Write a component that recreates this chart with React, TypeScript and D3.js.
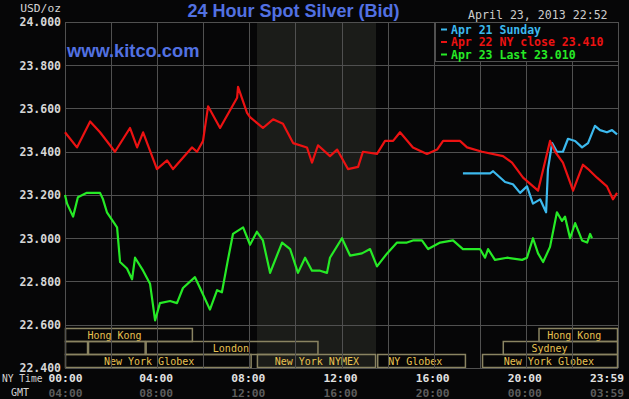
import React from "react";
import * as d3 from "d3";

// price axis
const priceTicks = [24.0, 23.8, 23.6, 23.4, 23.2, 23.0, 22.8, 22.6, 22.4];

// time axis (hours since 00:00 NY time)
const labelHours = [0, 4, 8, 12, 16, 20, 24];
const nyTimeLabels = ["00:00", "04:00", "08:00", "12:00", "16:00", "20:00", "23:59"];
const gmtLabels = ["04:00", "08:00", "12:00", "16:00", "20:00", "00:00", "03:59"];

// Apr 21 Sunday (cyan)
const apr21Hours = [17.27, 18.45, 18.58, 19.1, 19.44, 19.75, 20.05, 20.31, 20.62, 20.88, 20.96, 21.14, 21.35, 21.61, 21.83, 22.14, 22.44, 22.7, 23.0, 23.22, 23.52, 23.74, 23.96];
const apr21Price = [23.3, 23.3, 23.31, 23.26, 23.25, 23.21, 23.24, 23.16, 23.18, 23.12, 23.32, 23.44, 23.4, 23.4, 23.46, 23.45, 23.42, 23.44, 23.52, 23.5, 23.49, 23.5, 23.48];

// Apr 22 NY close (red)
const apr22Hours = [0, 0.52, 1.09, 1.52, 2.17, 2.82, 3.13, 3.39, 3.99, 4.43, 4.69, 5.51, 5.73, 5.99, 6.21, 6.73, 7.47, 7.51, 7.9, 8.03, 8.59, 9.03, 9.46, 9.9, 10.5, 10.72, 10.98, 11.5, 11.81, 12.28, 12.72, 12.93, 13.54, 13.89, 14.24, 14.54, 15.1, 15.71, 16.15, 16.41, 17.14, 17.45, 18.1, 19.01, 19.4, 19.88, 20.53, 21.05, 21.27, 21.61, 22.05, 22.48, 22.7, 23.09, 23.52, 23.78, 23.96];
const apr22Price = [23.49, 23.42, 23.54, 23.49, 23.4, 23.51, 23.42, 23.49, 23.32, 23.36, 23.32, 23.42, 23.4, 23.45, 23.61, 23.51, 23.65, 23.7, 23.58, 23.56, 23.51, 23.55, 23.53, 23.44, 23.42, 23.35, 23.43, 23.38, 23.41, 23.32, 23.33, 23.4, 23.39, 23.45, 23.45, 23.49, 23.42, 23.39, 23.41, 23.45, 23.45, 23.42, 23.4, 23.38, 23.35, 23.28, 23.22, 23.45, 23.4, 23.35, 23.22, 23.34, 23.32, 23.28, 23.24, 23.18, 23.21];

// Apr 23 Last (green)
const apr23Hours = [0, 0.09, 0.35, 0.56, 0.95, 1.52, 1.65, 1.82, 2.26, 2.39, 2.69, 2.91, 3.04, 3.39, 3.69, 3.91, 4.12, 4.56, 4.86, 5.12, 5.64, 5.86, 6.29, 6.6, 6.81, 7.07, 7.29, 7.73, 8.03, 8.33, 8.59, 8.9, 9.42, 9.77, 10.11, 10.42, 10.72, 11.07, 11.37, 11.5, 12.02, 12.37, 12.89, 13.24, 13.54, 13.98, 14.41, 14.84, 15.1, 15.49, 15.76, 16.28, 16.84, 17.27, 18.01, 18.23, 18.36, 18.66, 19.18, 19.84, 20.05, 20.31, 20.53, 20.75, 21.05, 21.35, 21.57, 21.7, 21.92, 22.14, 22.44, 22.66, 22.79, 22.87];
const apr23Price = [23.2, 23.16, 23.1, 23.19, 23.21, 23.21, 23.18, 23.12, 23.05, 22.89, 22.86, 22.81, 22.91, 22.85, 22.79, 22.62, 22.7, 22.71, 22.7, 22.77, 22.82, 22.77, 22.67, 22.76, 22.75, 22.9, 23.02, 23.05, 22.97, 23.03, 22.99, 22.84, 22.98, 22.95, 22.84, 22.91, 22.85, 22.85, 22.84, 22.91, 23.0, 22.92, 22.93, 22.95, 22.87, 22.93, 22.98, 22.98, 22.99, 22.99, 22.95, 22.98, 22.99, 22.95, 22.95, 22.91, 22.95, 22.9, 22.91, 22.9, 22.91, 23.0, 22.93, 22.89, 22.96, 23.12, 23.08, 23.1, 23.0, 23.07, 22.99, 22.98, 23.02, 23.0];

// NYMEX pit session (shaded)
const nymexOpen = 8.33;
const nymexClose = 13.5;

// trading sessions along the bottom
const sessionRows = [0, 0, 1, 1, 1, 1, 2, 2, 2, 2];
const sessionStart = [0, 20.55, 0, 1.0, 3.5, 19.0, 0, 8.33, 13.55, 18.1];
const sessionEnd = [5.55, 24, 1.0, 3.5, 11.0, 24, 8.1, 13.5, 17.4, 24];
const sessionNames = ["Hong Kong", "Hong Kong", "", "", "London", "Sydney", "New York Globex", "New York NYMEX", "NY Globex", "New York Globex"];
const sessionLabelAt = [2.15, 22.1, 0, 0, 7.2, 21.03, 3.65, 10.93, 15.2, 21.0];

const series = [
  { name: "Apr 21 Sunday", hours: apr21Hours, price: apr21Price, color: "#3cb9ee" },
  { name: "Apr 22 NY close 23.410", hours: apr22Hours, price: apr22Price, color: "#ec1212" },
  { name: "Apr 23 Last 23.010", hours: apr23Hours, price: apr23Price, color: "#26ea26" },
];

const W = 629;
const H = 399;
const left = 65;
const right = 618;
const top = 22;
const bottom = 368;
const rowTop = 328;
const rowH = 13;

const mono = "'DejaVu Sans Mono', monospace";
const sans = "'Liberation Sans', Arial, sans-serif";
const gridColor = "#505050";
const barStroke = "#8a8462";
const barText = "#e8c250";

const App: React.FC = () => {
  const x = d3.scaleLinear().domain([0, 24]).range([left, right]);
  const y = d3.scaleLinear().domain([22.4, 24]).range([bottom, top]);
  const fmt = d3.format(".3f");
  const gridHours = d3.range(2, 24, 2);

  return (
    <svg
      width={W}
      height={H}
      style={{ position: "fixed", left: 0, top: 0, display: "block" }}
    >
      <rect x={0} y={0} width={W} height={H} fill="#060607" />

      {/* NYMEX shading */}
      <rect
        x={x(nymexOpen)}
        y={top}
        width={x(nymexClose) - x(nymexOpen)}
        height={bottom - top}
        fill="#1b1c19"
      />

      {/* session bars */}
      {sessionRows.map((r, i) => {
        const x0 = x(sessionStart[i]);
        const x1 = x(sessionEnd[i]);
        const yy = rowTop + r * rowH;
        return (
          <g key={"s" + i}>
            <rect
              x={x0 + 0.5}
              y={yy + 0.5}
              width={x1 - x0 - 1}
              height={rowH}
              fill="none"
              stroke={barStroke}
              strokeWidth={1.5}
            />
            {sessionNames[i] && (
              <text
                x={x(sessionLabelAt[i])}
                y={yy + 10.5}
                textAnchor="middle"
                fontFamily={mono}
                fontSize={10}
                fill={barText}
              >
                {sessionNames[i]}
              </text>
            )}
          </g>
        );
      })}

      {/* grid */}
      {priceTicks.map((p) => (
        <line
          key={"h" + p}
          x1={left}
          x2={right}
          y1={Math.round(y(p)) + 0.5}
          y2={Math.round(y(p)) + 0.5}
          stroke={gridColor}
        />
      ))}
      {[0, ...gridHours, 24].map((h) => (
        <line
          key={"v" + h}
          x1={Math.round(x(h)) + 0.5}
          x2={Math.round(x(h)) + 0.5}
          y1={top}
          y2={bottom}
          stroke={gridColor}
        />
      ))}

      {/* price lines */}
      {series.map((s) => {
        const path = d3
          .line<number>()
          .x((h) => x(h))
          .y((_, i) => y(s.price[i]))(s.hours);
        return (
          <path
            key={s.name}
            d={path || ""}
            fill="none"
            stroke={s.color}
            strokeWidth={2.2}
            strokeLinejoin="round"
          />
        );
      })}

      {/* legend */}
      <rect x={435.5} y={22.5} width={183} height={39} fill="#060607" stroke={gridColor} />
      {series.map((s, i) => (
        <g key={"l" + s.name}>
          <line x1={441} x2={447} y1={29.5 + i * 12.5} y2={29.5 + i * 12.5} stroke={s.color} strokeWidth={2} />
          <text
            x={451}
            y={33.5 + i * 12.5}
            fontFamily={mono}
            fontSize={11.5}
            fontWeight="bold"
            fill={s.color}
          >
            {s.name}
          </text>
        </g>
      ))}

      {/* y axis labels */}
      <text x={61} y={12} textAnchor="end" fontFamily={mono} fontSize={11.3} fill="#d4d4d4">
        USD/oz
      </text>
      {priceTicks.map((p) => (
        <text
          key={"yl" + p}
          x={61}
          y={y(p) + 4.3}
          textAnchor="end"
          fontFamily={mono}
          fontSize={11.5}
          fontWeight="bold"
          fill="#d6d6d6"
        >
          {fmt(p)}
        </text>
      ))}

      {/* x axis labels */}
      <text x={2} y={382} fontFamily={mono} fontSize={9.6} fill="#d4d4d4">
        NY Time
      </text>
      <text x={20} y={396} textAnchor="middle" fontFamily={mono} fontSize={10} fill="#d4d4d4">
        GMT
      </text>
      {labelHours.map((h, i) => {
        const last = i === labelHours.length - 1;
        return (
          <g key={"xl" + h}>
            <text
              x={last ? 624 : x(h) + (i === 0 ? 0.5 : -1)}
              y={382}
              textAnchor={last ? "end" : "middle"}
              fontFamily={mono}
              fontSize={11.3}
              fontWeight="bold"
              fill="#e2e2e2"
            >
              {nyTimeLabels[i]}
            </text>
            <text
              x={last ? 624 : x(h) + (i === 0 ? 0.5 : -1)}
              y={397}
              textAnchor={last ? "end" : "middle"}
              fontFamily={mono}
              fontSize={11.3}
              fontWeight="bold"
              fill="#5c5c5c"
            >
              {gmtLabels[i]}
            </text>
          </g>
        );
      })}

      {/* titles */}
      <text
        x={293.5}
        y={17}
        textAnchor="middle"
        fontFamily={sans}
        fontSize={18}
        fontWeight="bold"
        fill="#5271e2"
      >
        24 Hour Spot Silver (Bid)
      </text>
      <text x={67} y={57} fontFamily={sans} fontSize={18.3} fontWeight="bold" fill="#5271e2">
        www.kitco.com
      </text>
      <text x={468} y={18.5} fontFamily={mono} fontSize={11.6} fill="#cccccc">
        April 23, 2013 22:52
      </text>
    </svg>
  );
};

export default App;
